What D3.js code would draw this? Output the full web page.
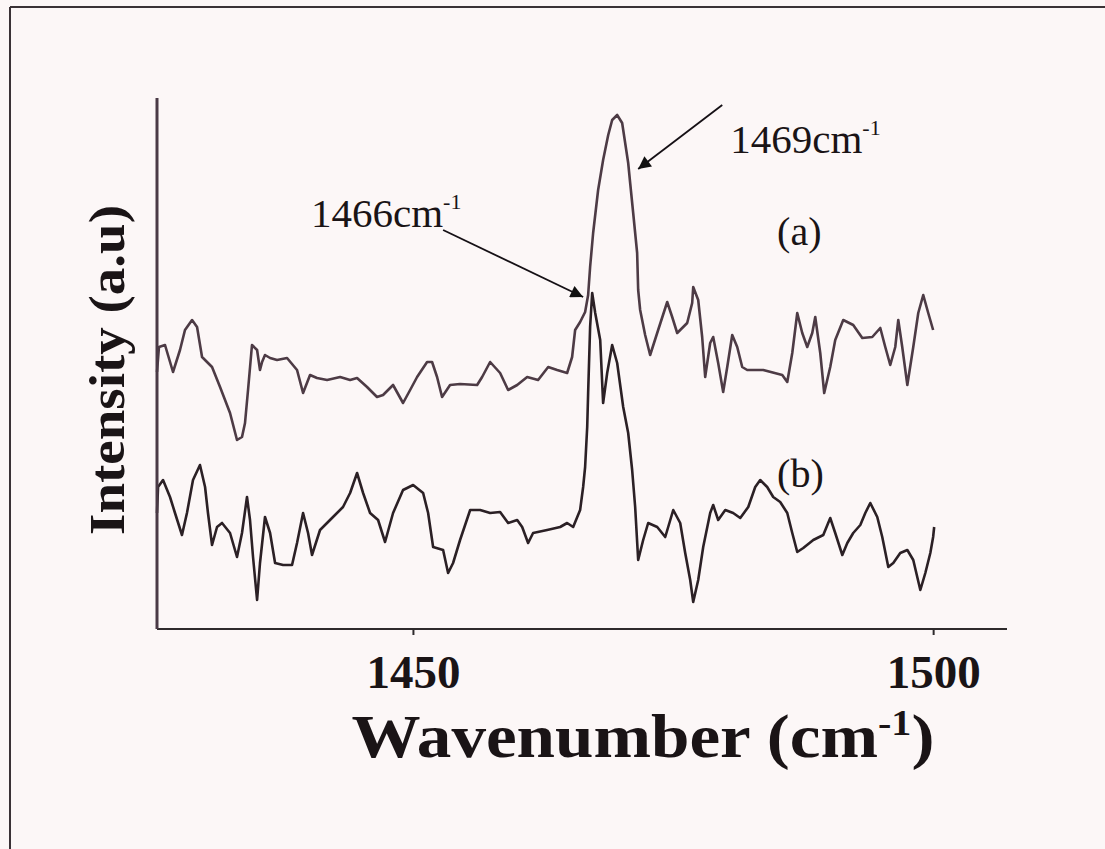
<!DOCTYPE html>
<html>
<head>
<meta charset="utf-8">
<script src="https://cdn.jsdelivr.net/npm/d3@7/dist/d3.min.js"></script>
<style>
  html, body { margin: 0; padding: 0; background: #fcf7f7; }
  svg { display: block; }
  text { font-family: "Liberation Serif", "Times New Roman", serif; fill: #1a1416; }
</style>
</head>
<body>
<svg id="chart" width="1105" height="849"></svg>
<script>
// Raman spectra, 1425–1500 cm^-1 region; intensities in arbitrary units
const wavenumberA = [1425.40,1425.59,1426.17,1426.94,1427.61,1428.09,1428.77,1429.25,1429.73,1430.69,1431.46,1432.42,1433.09,1433.57,1433.86,1434.15,1434.53,1435.02,1435.30,1435.50,1435.78,1436.27,1436.94,1437.90,1438.86,1439.44,1440.11,1440.78,1441.75,1443.00,1443.96,1444.63,1445.59,1446.55,1447.13,1448.09,1449.05,1449.73,1450.40,1451.36,1451.84,1452.32,1452.80,1453.57,1454.53,1456.17,1456.65,1457.42,1458.38,1459.15,1460.02,1460.98,1462.03,1463.00,1463.86,1464.82,1465.30,1465.59,1466.07,1466.55,1466.84,1467.03,1467.32,1467.80,1468.28,1468.77,1469.15,1469.63,1470.11,1470.40,1470.69,1470.88,1471.17,1471.55,1471.65,1471.84,1472.32,1472.80,1473.57,1474.44,1474.92,1475.40,1476.36,1476.84,1476.94,1477.42,1477.80,1478.09,1478.57,1478.86,1479.34,1479.82,1480.21,1480.69,1481.17,1481.65,1482.13,1483.67,1485.50,1485.98,1486.46,1486.94,1487.42,1487.90,1488.38,1488.67,1489.15,1489.53,1490.11,1490.59,1491.36,1492.32,1493.19,1494.15,1494.92,1495.40,1495.88,1496.36,1496.65,1497.03,1497.52,1498.09,1498.57,1499.05,1499.53,1500.00];
const intensityA = [257,282,284,257,279,299,309,302,272,262,242,216,189,192,206,239,284,279,259,267,274,271,269,271,259,236,254,251,249,252,249,251,242,232,234,244,226,239,252,267,267,252,232,244,245,244,252,267,256,239,244,252,249,262,259,256,272,299,307,317,334,362,396,439,469,494,509,514,506,486,466,446,416,376,339,319,294,274,299,327,312,296,306,326,342,329,292,252,286,292,266,237,262,294,282,262,259,259,254,247,276,316,296,282,296,312,276,236,262,289,309,304,291,292,301,282,264,282,309,282,244,282,316,334,316,299];

const wavenumberB = [1425.40,1425.50,1425.98,1426.65,1427.13,1427.80,1428.28,1428.86,1429.53,1430.02,1430.30,1430.69,1431.17,1431.65,1432.42,1433.09,1433.57,1434.05,1434.34,1434.63,1435.02,1435.30,1435.78,1436.27,1436.75,1437.52,1438.38,1438.86,1439.44,1439.92,1440.30,1441.07,1442.03,1443.28,1443.96,1444.63,1445.21,1445.88,1446.65,1447.32,1448.09,1449.05,1450.02,1450.98,1451.46,1451.94,1452.90,1453.38,1453.86,1454.53,1455.50,1456.46,1457.42,1458.38,1459.15,1460.02,1460.50,1461.07,1461.55,1462.90,1464.15,1464.82,1465.40,1466.07,1466.36,1466.55,1466.75,1466.84,1467.03,1467.23,1467.52,1468.00,1468.28,1468.67,1469.15,1469.63,1470.21,1470.69,1471.07,1471.36,1471.65,1472.13,1472.61,1473.48,1474.25,1475.02,1475.69,1476.17,1476.65,1476.94,1477.42,1477.90,1478.57,1478.86,1479.34,1480.02,1480.78,1481.46,1482.23,1482.90,1483.38,1484.05,1484.63,1485.30,1485.98,1486.46,1486.94,1487.52,1488.48,1489.44,1490.11,1490.59,1491.27,1491.75,1492.32,1493.00,1493.48,1493.96,1494.63,1495.11,1495.69,1496.17,1496.84,1497.52,1498.09,1498.77,1499.25,1499.73,1500.00,1500.10];
const intensityB = [116,142,149,132,116,94,116,149,164,142,116,84,102,106,96,72,96,132,109,72,29,66,112,96,66,64,64,86,116,96,74,99,109,122,136,156,136,116,109,87,116,139,144,136,116,82,79,56,66,89,119,119,116,117,106,109,102,86,96,99,102,106,102,119,142,162,202,236,302,336,316,289,226,256,284,266,222,196,159,122,69,89,106,102,92,119,106,76,49,27,49,82,116,124,109,119,116,111,122,142,149,142,132,127,116,96,77,81,89,94,111,96,74,86,96,104,116,126,112,92,62,66,76,79,69,39,56,76,92,102];

const xDomain = [1425.4, 1507.1];
const yDomain = [0, 531];
const xTicks = [1450, 1500];

const seriesLabels = ["(a)", "(b)"];
const labelPos = [{w: 1485.0, v: 384}, {w: 1485.0, v: 142}];   // label anchor in data units

const peakNotes = [
  {text: "1466", unit: "cm", sup: "-1", tip: {w: 1466.36, v: 332}, tail: {w: 1452.9, v: 399}, at: {w: 1440.2, v: 402}},
  {text: "1469", unit: "cm", sup: "-1", tip: {w: 1471.65, v: 460}, tail: {w: 1479.73, v: 524}, at: {w: 1480.5, v: 476}}
];

const svg = d3.select("#chart");
const margin = {left: 157, top: 98};
const plotW = 850, plotH = 531;

// outer frame (left and top edges visible)
svg.append("line").attr("x1", 10).attr("x2", 10).attr("y1", 7).attr("y2", 849)
  .attr("stroke", "#3a3236").attr("stroke-width", 2);
svg.append("line").attr("x1", 10).attr("x2", 1105).attr("y1", 7).attr("y2", 7)
  .attr("stroke", "#3a3236").attr("stroke-width", 2);

const g = svg.append("g").attr("transform", `translate(${margin.left},${margin.top})`);
const x = d3.scaleLinear().domain(xDomain).range([0, plotW]);
const y = d3.scaleLinear().domain(yDomain).range([plotH, 0]);

// spectra
const line = d3.line().x(d => x(d[0])).y(d => y(d[1]));
const dataA = wavenumberA.map((w, i) => [w, intensityA[i]]);
const dataB = wavenumberB.map((w, i) => [w, intensityB[i]]);
g.append("path").datum(dataA).attr("d", line).attr("fill", "none")
  .attr("stroke", "#4d3b45").attr("stroke-width", 2.6).attr("stroke-linejoin", "round");
g.append("path").datum(dataB).attr("d", line).attr("fill", "none")
  .attr("stroke", "#2b2025").attr("stroke-width", 2.6).attr("stroke-linejoin", "round");

// axes
const xAxis = g.append("g").attr("transform", `translate(0,${plotH})`)
  .call(d3.axisBottom(x).tickValues(xTicks).tickSize(6).tickPadding(20).tickFormat(d3.format("d")));
xAxis.select(".domain").attr("stroke", "#2e2a2c").attr("stroke-width", 2.2).attr("d", `M0,0H${plotW}`);
xAxis.selectAll(".tick line").attr("stroke", "#2e2a2c").attr("stroke-width", 2);
xAxis.selectAll(".tick text")
  .style("font-family", "'Liberation Serif', serif")
  .attr("font-size", 47).attr("font-weight", "bold").attr("fill", "#1a1416")
  .attr("dy", "0.71em");

const yAxis = g.append("g").call(d3.axisLeft(y).tickValues([]).tickSize(0));
yAxis.select(".domain").attr("stroke", "#4a3a46").attr("stroke-width", 3).attr("d", `M0,0V${plotH}`);

// axis titles
const xTitle = svg.append("text")
  .attr("text-anchor", "middle").attr("font-size", 62).attr("font-weight", "bold")
  .attr("transform", "translate(643,757)");
xTitle.append("tspan").text("Wavenumber (cm");
xTitle.append("tspan").text("-1").attr("font-size", 36).attr("dy", -22);
xTitle.append("tspan").text(")").attr("dy", 22);
{
  const w = xTitle.node().getComputedTextLength();
  xTitle.attr("transform", `translate(643,757) scale(${583 / w},1)`);
}

const yTitle = svg.append("text")
  .attr("text-anchor", "middle").attr("font-size", 50).attr("font-weight", "bold")
  .text("Intensity (a.u)");
{
  const w = yTitle.node().getComputedTextLength();
  yTitle.attr("transform", `translate(124,370) rotate(-90) scale(${330 / w},1)`);
}

// series labels
seriesLabels.forEach((s, i) => {
  g.append("text").attr("x", x(labelPos[i].w)).attr("y", y(labelPos[i].v))
    .attr("font-size", 40).text(s);
});

// peak annotations with arrows
const defs = svg.append("defs");
defs.append("marker").attr("id", "head").attr("viewBox", "0 0 10 10")
  .attr("refX", 10).attr("refY", 5).attr("markerWidth", 9).attr("markerHeight", 7)
  .attr("markerUnits", "strokeWidth").attr("orient", "auto")
  .append("path").attr("d", "M0,0L10,5L0,10Z").attr("fill", "#111");

peakNotes.forEach(n => {
  g.append("line")
    .attr("x1", x(n.tail.w)).attr("y1", y(n.tail.v))
    .attr("x2", x(n.tip.w)).attr("y2", y(n.tip.v))
    .attr("stroke", "#151015").attr("stroke-width", 1.8)
    .attr("marker-end", "url(#head)");
  const t = g.append("text").attr("x", x(n.at.w)).attr("y", y(n.at.v)).attr("font-size", 41);
  t.append("tspan").text(n.text + n.unit);
  t.append("tspan").text(n.sup).attr("font-size", 22).attr("dy", -18);
});
</script>
</body>
</html>
